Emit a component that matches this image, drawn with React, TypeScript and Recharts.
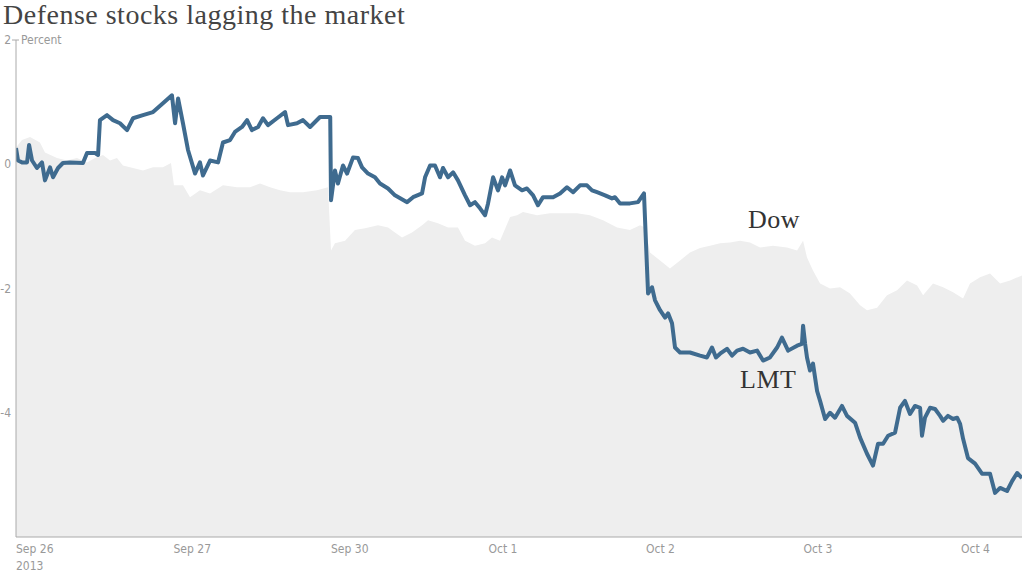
import { ComposedChart, Area, Line, XAxis, YAxis } from 'recharts';

// trading days since Sep 26 open (one unit = one session)
const lmtTimes = [
  0, 0.013, 0.038, 0.07, 0.083, 0.102, 0.133, 0.165, 0.184, 0.216, 0.235, 0.267, 0.298, 0.343, 0.425, 0.451,
  0.502, 0.521, 0.533, 0.578, 0.616, 0.66, 0.705, 0.743, 0.806, 0.87, 0.933, 0.99, 1.01, 1.029, 1.06, 1.092,
  1.137, 1.168, 1.187, 1.232, 1.283, 1.314, 1.359, 1.39, 1.435, 1.467, 1.498, 1.537, 1.568, 1.6, 1.657, 1.708,
  1.727, 1.784, 1.822, 1.867, 1.93, 1.995, 2.0, 2.025, 2.044, 2.076, 2.102, 2.14, 2.171, 2.197, 2.235, 2.279,
  2.311, 2.362, 2.406, 2.483, 2.521, 2.578, 2.597, 2.629, 2.66, 2.692, 2.711, 2.743, 2.775, 2.806, 2.851, 2.883,
  2.914, 2.946, 2.978, 2.997, 3.029, 3.06, 3.086, 3.105, 3.137, 3.168, 3.213, 3.244, 3.283, 3.314, 3.346, 3.41,
  3.454, 3.498, 3.537, 3.581, 3.625, 3.657, 3.689, 3.74, 3.784, 3.803, 3.835, 3.898, 3.949, 3.987, 4.006, 4.013,
  4.038, 4.057, 4.089, 4.121, 4.14, 4.165, 4.184, 4.216, 4.279, 4.343, 4.387, 4.419, 4.444, 4.47, 4.514, 4.546,
  4.578, 4.616, 4.66, 4.705, 4.743, 4.787, 4.832, 4.863, 4.902, 4.959, 4.99, 4.997, 5.01, 5.022, 5.041, 5.06,
  5.086, 5.105, 5.137, 5.168, 5.2, 5.244, 5.276, 5.327, 5.359, 5.403, 5.441, 5.473, 5.505, 5.537, 5.581, 5.613,
  5.644, 5.676, 5.708, 5.74, 5.752, 5.771, 5.803, 5.835, 5.867, 5.886, 5.917, 5.949, 5.975, 5.994, 6.013, 6.044,
  6.089, 6.133, 6.184, 6.216, 6.248, 6.292, 6.324, 6.356, 6.387,
];

const lmtValues = [
  0.26, 0.06, 0.03, 0.03, 0.31, 0.06, -0.06, 0.03, -0.26, -0.05, -0.21, -0.06, 0.02, 0.03, 0.02, 0.18,
  0.18, 0.15, 0.71, 0.79, 0.71, 0.66, 0.55, 0.74, 0.79, 0.84, 0.98, 1.11, 0.66, 1.06, 0.66, 0.23,
  -0.15, 0.03, -0.18, 0.06, 0.03, 0.35, 0.39, 0.52, 0.6, 0.71, 0.55, 0.6, 0.74, 0.63, 0.74, 0.84,
  0.63, 0.66, 0.71, 0.6, 0.76, 0.76, -0.58, -0.1, -0.31, -0.02, -0.15, 0.11, 0.1, -0.05, -0.15, -0.21,
  -0.31, -0.39, -0.5, -0.61, -0.53, -0.47, -0.21, -0.02, -0.02, -0.21, -0.06, -0.21, -0.13, -0.26, -0.5, -0.66,
  -0.61, -0.71, -0.82, -0.63, -0.21, -0.42, -0.21, -0.34, -0.1, -0.34, -0.42, -0.39, -0.5, -0.66, -0.53, -0.53,
  -0.47, -0.37, -0.45, -0.34, -0.34, -0.42, -0.45, -0.5, -0.55, -0.53, -0.63, -0.63, -0.61, -0.47, -1.66, -2.08,
  -1.98, -2.19, -2.35, -2.47, -2.4, -2.56, -2.95, -3.03, -3.03, -3.08, -3.11, -2.95, -3.11, -3.05, -2.97, -3.08,
  -3.0, -2.97, -3.03, -3.0, -3.16, -3.11, -2.95, -2.79, -3.0, -2.92, -2.89, -2.6, -2.89, -3.11, -3.32, -3.21,
  -3.65, -3.81, -4.1, -4.0, -4.08, -3.89, -4.05, -4.16, -4.4, -4.66, -4.85, -4.5, -4.5, -4.37, -4.32, -3.92,
  -3.81, -4.02, -3.89, -3.92, -4.37, -4.08, -3.92, -3.94, -4.05, -4.13, -4.05, -4.1, -4.08, -4.18, -4.42, -4.73,
  -4.82, -4.98, -4.98, -5.29, -5.21, -5.26, -5.1, -4.97, -5.05,
];

const dowTimes = [
  0, 0.038, 0.089, 0.152, 0.184, 0.26, 0.324, 0.387, 0.451, 0.502, 0.552, 0.597, 0.641, 0.679, 0.743, 0.806,
  0.87, 0.933, 0.984, 1.003, 1.06, 1.105, 1.168, 1.232, 1.314, 1.403, 1.486, 1.549, 1.613, 1.676, 1.74, 1.822,
  1.911, 1.981, 2.0, 2.025, 2.089, 2.152, 2.216, 2.298, 2.362, 2.406, 2.451, 2.514, 2.578, 2.616, 2.679, 2.743,
  2.806, 2.851, 2.914, 2.978, 3.022, 3.073, 3.137, 3.181, 3.219, 3.308, 3.39, 3.473, 3.562, 3.644, 3.727, 3.816,
  3.898, 3.962, 3.994, 4.025, 4.089, 4.152, 4.216, 4.279, 4.343, 4.406, 4.47, 4.533, 4.597, 4.66, 4.724, 4.806,
  4.895, 4.959, 4.997, 5.022, 5.06, 5.105, 5.168, 5.232, 5.295, 5.359, 5.403, 5.467, 5.53, 5.594, 5.657, 5.721,
  5.759, 5.822, 5.886, 5.949, 6.013, 6.057, 6.121, 6.184, 6.248, 6.311, 6.387,
];

const dowValues = [
  0.27, 0.39, 0.44, 0.35, 0.19, 0.1, 0.06, 0.1, 0.03, 0.1, 0.15, 0.06, 0.1, -0.02, -0.06, -0.1,
  -0.05, -0.05, 0.02, -0.34, -0.34, -0.53, -0.42, -0.47, -0.34, -0.37, -0.37, -0.31, -0.37, -0.42, -0.45, -0.45,
  -0.42, -0.37, -1.39, -1.27, -1.23, -1.06, -1.03, -0.98, -1.02, -1.1, -1.18, -1.1, -0.98, -0.9, -0.95, -1.02,
  -1.02, -1.23, -1.31, -1.27, -1.18, -1.23, -0.85, -0.82, -0.77, -0.82, -0.79, -0.79, -0.79, -0.82, -0.9, -1.02,
  -1.06, -0.98, -1.02, -1.42, -1.55, -1.68, -1.55, -1.42, -1.35, -1.31, -1.27, -1.26, -1.23, -1.26, -1.34, -1.31,
  -1.34, -1.39, -1.23, -1.5, -1.71, -1.92, -2.0, -1.98, -2.08, -2.27, -2.35, -2.31, -2.11, -2.03, -1.87, -1.95,
  -2.11, -1.92, -1.98, -2.06, -2.16, -1.92, -1.82, -1.76, -1.92, -1.87, -1.79,
];

const dayTicks = [0, 1, 2, 3, 4, 5, 6];
const dayLabels = ['Sep 26', 'Sep 27', 'Sep 30', 'Oct 1', 'Oct 2', 'Oct 3', 'Oct 4'];
const yTicks = [2, 0, -2, -4];

const lmtData = lmtTimes.map((t, i) => ({ t, lmt: lmtValues[i] }));
const dowData = dowTimes.map((t, i) => ({ t, dow: dowValues[i] }));

const axisFont = "'Liberation Sans Narrow', 'DejaVu Sans Condensed', 'Liberation Sans', sans-serif";
const serif = "'Liberation Serif', 'DejaVu Serif', serif";

const YTick = (props: any) => {
  const { y, payload } = props;
  return (
    <g>
      <text x={11} y={y + 4} textAnchor="end" fontSize={12} fill="#999" fontFamily={axisFont}>
        {payload.value}
      </text>
      {payload.value === 2 && (
        <>
          <line x1={12} x2={19} y1={y} y2={y} stroke="#aaa" />
          <text x={21} y={y + 4} fontSize={12} fill="#999" fontFamily={axisFont}>
            Percent
          </text>
        </>
      )}
    </g>
  );
};

const XTick = (props: any) => {
  const { x, payload } = props;
  const idx = dayTicks.indexOf(payload.value);
  return (
    <g>
      <text x={x} y={553} fontSize={12} fill="#999" fontFamily={axisFont}>
        {dayLabels[idx]}
      </text>
      {idx === 0 && (
        <text x={x} y={570} fontSize={12} fill="#999" fontFamily={axisFont}>
          2013
        </text>
      )}
    </g>
  );
};

export default function App() {
  return (
    <div style={{ position: 'absolute', left: 0, top: 0, width: 1024, height: 576, background: '#fff' }}>
      <ComposedChart width={1024} height={576} margin={{ top: 40, right: 2, bottom: 0, left: 0 }}>
        <XAxis
          type="number"
          dataKey="t"
          domain={[0, 6.387]}
          ticks={dayTicks}
          allowDataOverflow
          height={39}
          stroke="#aaa"
          tickLine={false}
          tick={<XTick />}
        />
        <YAxis
          type="number"
          domain={[-6, 2]}
          ticks={yTicks}
          allowDataOverflow
          width={16}
          stroke="#aaa"
          tickLine={false}
          tick={<YTick />}
        />
        <Area
          data={dowData}
          dataKey="dow"
          type="linear"
          baseValue="dataMin"
          fill="#eeeeee"
          fillOpacity={1}
          stroke="none"
          isAnimationActive={false}
        />
        <Line
          data={lmtData}
          dataKey="lmt"
          type="linear"
          stroke="#3f6b8f"
          strokeWidth={4}
          strokeLinejoin="round"
          dot={false}
          isAnimationActive={false}
        />
      </ComposedChart>
      <div style={{ position: 'absolute', left: 3, top: -1, fontFamily: serif, fontSize: 28, letterSpacing: 0.5, color: '#444', lineHeight: '32px', whiteSpace: 'nowrap' }}>
        Defense stocks lagging the market
      </div>
      <div style={{ position: 'absolute', left: 748, top: 205, fontFamily: serif, fontSize: 26, letterSpacing: 0.5, color: '#333', lineHeight: '30px' }}>
        Dow
      </div>
      <div style={{ position: 'absolute', left: 740, top: 365, fontFamily: serif, fontSize: 26, letterSpacing: 0.5, color: '#333', lineHeight: '30px' }}>
        LMT
      </div>
    </div>
  );
}
